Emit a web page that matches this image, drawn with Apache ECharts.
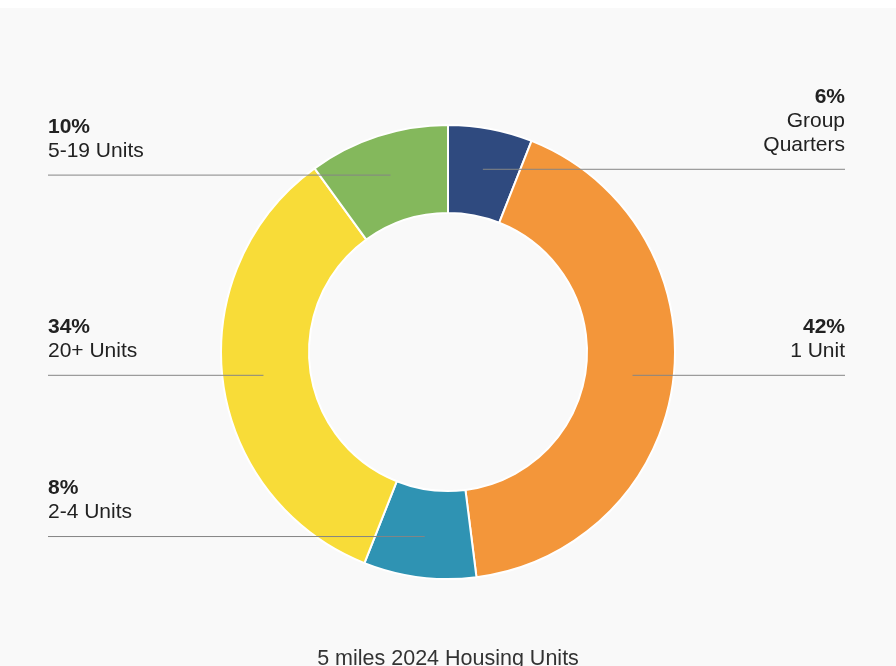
<!DOCTYPE html>
<html>
<head>
<meta charset="utf-8">
<script src="https://cdn.jsdelivr.net/npm/echarts@6/dist/echarts.min.js"></script>
<style>
  html, body { margin: 0; padding: 0; }
  body { width: 896px; height: 666px; background: linear-gradient(#ffffff 0px, #ffffff 8px, #f9f9f9 8px); }
  #chart { position: absolute; left: 0; top: 0; width: 896px; height: 666px; }
</style>
</head>
<body>
<div id="chart"></div>
<script>
// Data
const categories = ['Group\nQuarters', '1 Unit', '2-4 Units', '20+ Units', '5-19 Units'];
const values = [6, 42, 8, 34, 10];
const colors = ['#2f4a7f', '#f3963a', '#2f93b3', '#f8dc38', '#84b85c'];
const chartTitle = '5 miles 2024 Housing Units';

const CENTER = [448, 352];
const INNER_R = 139;
const OUTER_R = 227;
const LINE_R = 186;
const EDGE = 48;
const FONT = '"Liberation Sans", Arial, Helvetica, sans-serif';

const chart = echarts.init(document.getElementById('chart'), null, { renderer: 'canvas' });
const W = chart.getWidth();

const pieData = categories.map((c, i) => ({ name: c, value: values[i], itemStyle: { color: colors[i] } }));

const option = {
  backgroundColor: 'transparent',
  animation: false,
  title: {
    text: chartTitle,
    left: 'center',
    top: 643,
    textStyle: { fontFamily: FONT, fontSize: 21.5, fontWeight: 'normal', color: '#333' }
  },
  series: [{
    type: 'pie',
    z: 2,
    center: CENTER,
    radius: [INNER_R, OUTER_R],
    startAngle: 90,
    clockwise: true,
    silent: true,
    itemStyle: { borderColor: '#ffffff', borderWidth: 2 },
    label: { show: false },
    labelLine: { show: false },
    data: pieData
  }, {
    type: 'pie',
    z: 5,
    center: CENTER,
    radius: [LINE_R - 1, LINE_R],
    startAngle: 90,
    clockwise: true,
    silent: true,
    itemStyle: { color: 'rgba(0,0,0,0)', borderWidth: 0 },
    data: categories.map((c, i) => ({ name: c, value: values[i] })),
    label: {
      show: true,
      position: 'outside',
      formatter: p => '{p|' + values[p.dataIndex] + '%}\n' + p.name.split('\n').map(s => '{n|' + s + '}').join('\n'),
      rich: {
        p: { fontFamily: FONT, fontSize: 21, fontWeight: 'bold', color: '#222', lineHeight: 24 },
        n: { fontFamily: FONT, fontSize: 21, color: '#222', lineHeight: 24 }
      }
    },
    labelLine: {
      show: true,
      length: 0,
      length2: 10,
      lineStyle: { color: '#858585', width: 1 }
    },
    labelLayout: function (params) {
      const pts = params.labelLinePoints;
      if (!pts) return {};
      const px = pts[0][0];
      const py = pts[0][1];
      const isLeft = px < CENTER[0];
      const ex = isLeft ? EDGE : W - 51;
      return {
        x: ex,
        y: py - 12,
        align: isLeft ? 'left' : 'right',
        verticalAlign: 'bottom',
        labelLinePoints: [[px, py], [px, py], [ex, py]]
      };
    }
  }]
};
chart.setOption(option);
</script>
</body>
</html>
